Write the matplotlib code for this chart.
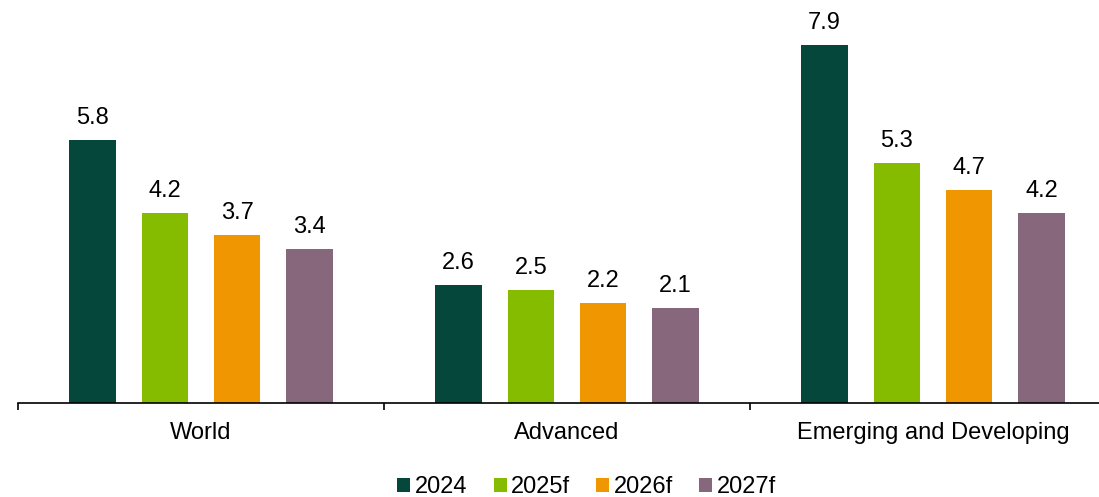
import numpy as np
import matplotlib
matplotlib.use("Agg")
import matplotlib.pyplot as plt

plt.rcParams['font.family'] = ['Liberation Sans', 'DejaVu Sans']

regions = ['World', 'Advanced', 'Emerging and Developing']
years = ['2024', '2025f', '2026f', '2027f']
v2024 = [5.8, 2.6, 7.9]
v2025 = [4.2, 2.5, 5.3]
v2026 = [3.7, 2.2, 4.7]
v2027 = [3.4, 2.1, 4.2]
colors = ['#06473B', '#86BC00', '#F09600', '#87677B']

series = [v2024, v2025, v2026, v2027]

fig = plt.figure(figsize=(10.99, 4.97), dpi=100)
ax = fig.add_axes([18 / 1099, 1 - 403 / 497, 1 - 18 / 1099, 403 / 497])

x = np.arange(len(regions))
step = 0.1976
width = 0.126
for i, (vals, col, lab) in enumerate(zip(series, colors, years)):
    pos = x + (i - 1.5) * step
    bars = ax.bar(pos, vals, width, color=col, label=lab)
    for b, v in zip(bars, vals):
        ax.annotate(f'{v:.1f}', (b.get_x() + b.get_width() / 2, v),
                    xytext=(0, 8), textcoords='offset points',
                    ha='center', va='bottom', fontsize=17)

ax.set_xlim(-0.5, -0.5 + (1099 - 18) / 366)
ax.set_ylim(0, 8.9)
for s in ['top', 'right', 'left']:
    ax.spines[s].set_visible(False)
ax.spines['bottom'].set_linewidth(1.2)
ax.set_yticks([])
ax.set_xticks([-0.5, 0.5, 1.5], minor=True)
ax.set_xticks(x)
ax.set_xticklabels(regions, fontsize=17)
ax.tick_params(axis='x', which='major', length=0, pad=14)
ax.tick_params(axis='x', which='minor', length=5, width=1.2, direction='out')

fig.legend(loc='lower center', ncol=4, frameon=False, fontsize=17,
           bbox_to_anchor=(0.534, -0.045), handlelength=0.55, handleheight=0.55,
           handletextpad=0.2, columnspacing=1.1)

fig.savefig('out.png', dpi=100)
